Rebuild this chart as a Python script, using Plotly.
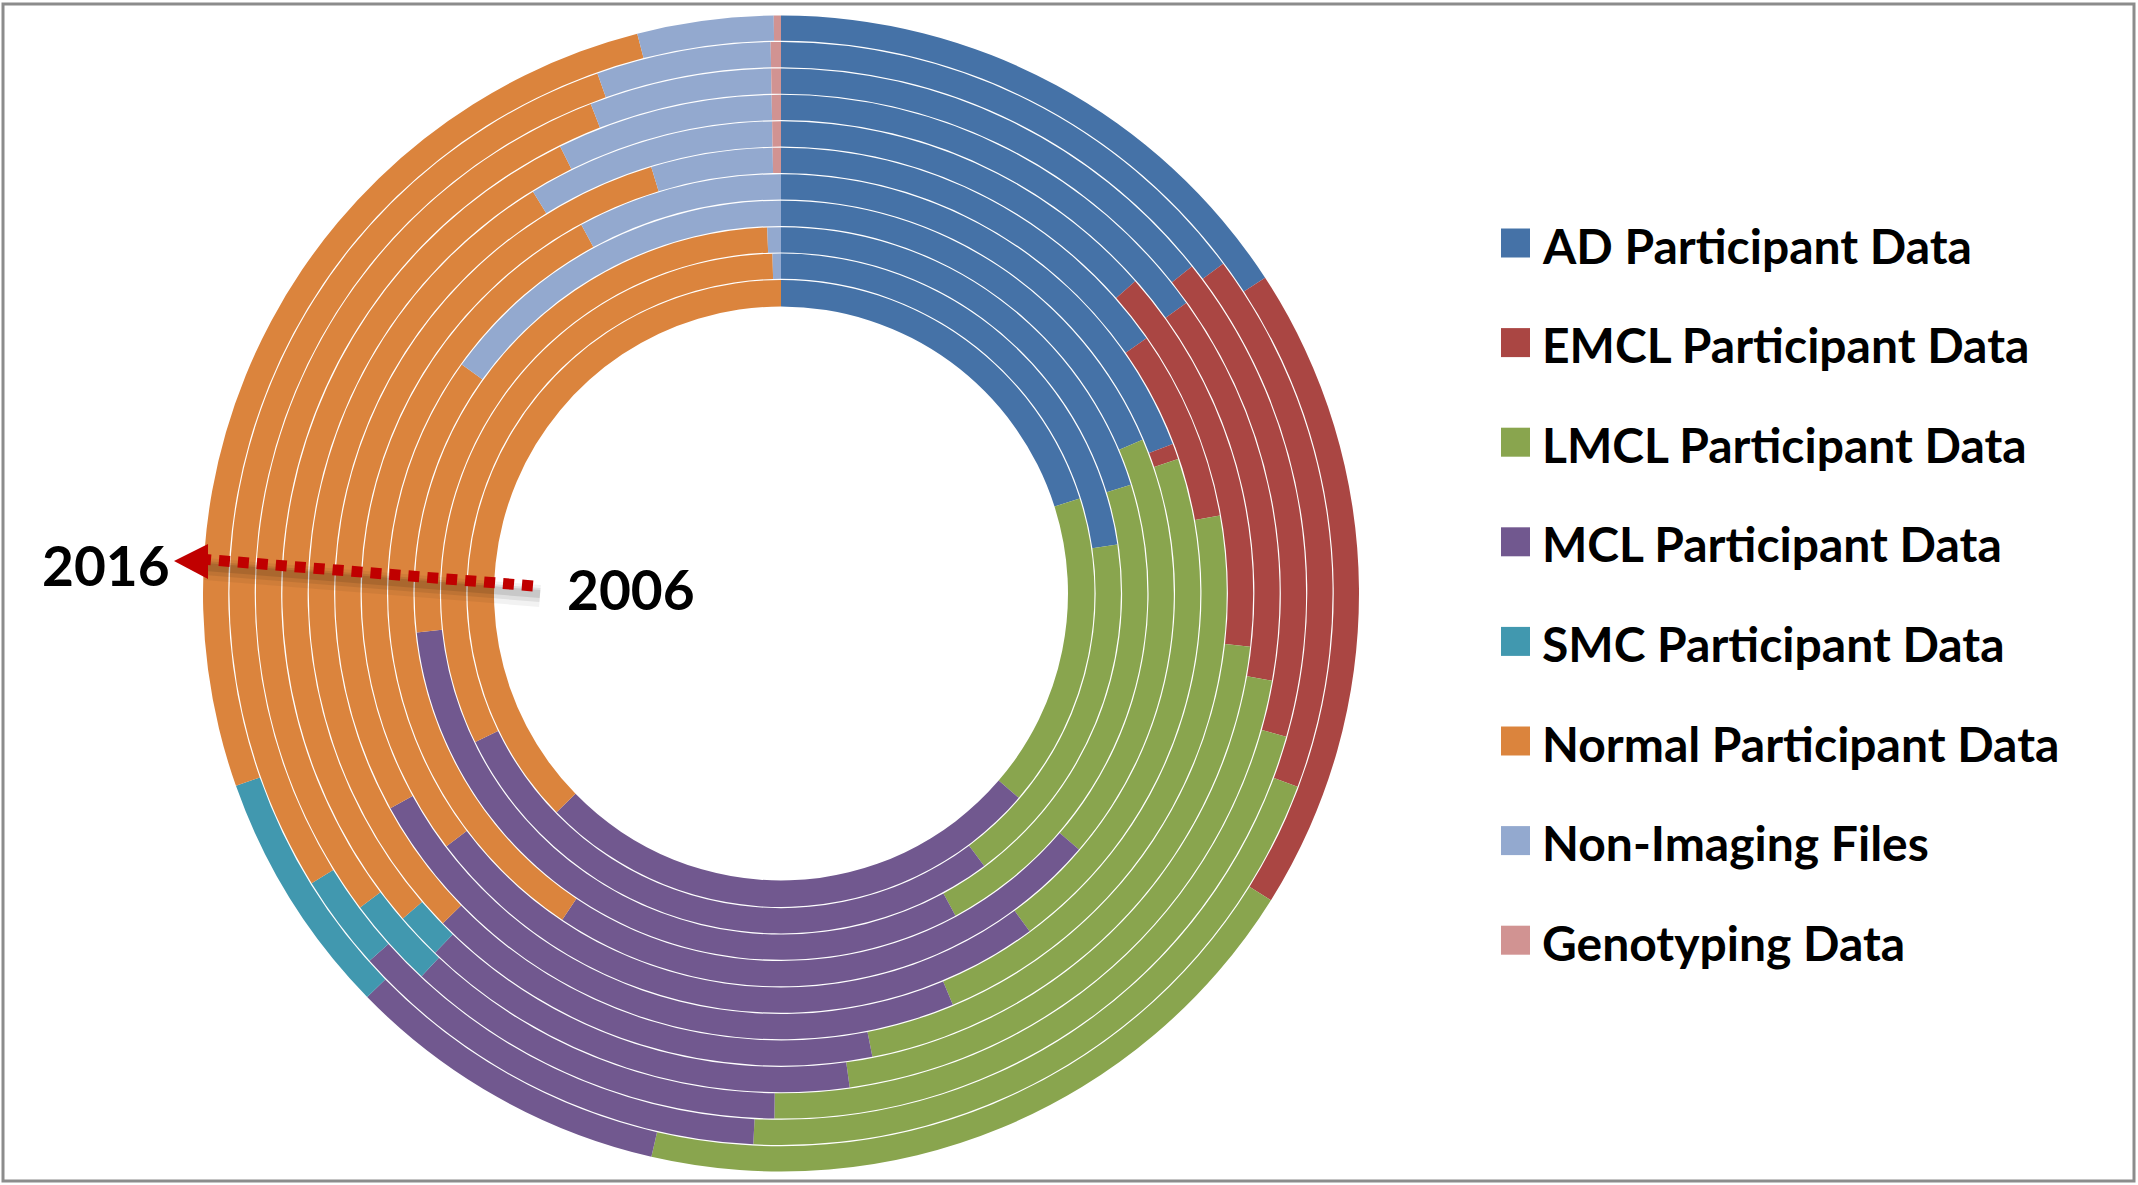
import plotly.graph_objects as go

W, H = 2138, 1185
CX, CY = 781, 593.5          # centre of the rings, in page pixels
R_IN, R_OUT = 287, 578       # hole radius and outer radius
RING_GAP = 1.2

FONT = "Lato"

# one ring per year, 2006 in the middle, 2016 outside
years = [2006, 2007, 2008, 2009, 2010, 2011, 2012, 2013, 2014, 2015, 2016]

categories = ["AD Participant Data", "EMCL Participant Data", "LMCL Participant Data",
              "MCL Participant Data", "SMC Participant Data", "Normal Participant Data",
              "Non-Imaging Files", "Genotyping Data"]
colors = ["#4572A7", "#AA4643", "#89A54E", "#71588F", "#4198AF", "#DB843D", "#93A9CF", "#D19392"]

# share of the data (%) per year
ad = [20.1, 22.7, 20.2, 18.6, 19.2, 15.3, 13.5, 15.1, 14.3, 14.8, 15.8]
emcl = [0, 0, 0, 0, 0.6, 6.9, 13.3, 12.7, 15.1, 15.9, 18.1]
lmcl = [16.2, 17.1, 21.9, 17.7, 20.1, 21.5, 20.1, 20.0, 20.8, 20.1, 19.7]
mcl = [26.4, 28.0, 31.2, 23.1, 24.8, 23.3, 15.8, 14.4, 11.8, 12.6, 9.1]
smc = [0, 0, 0, 0, 0, 0, 0, 1.5, 2.8, 2.8, 6.9]
normal = [37.3, 31.8, 26.1, 25.5, 27.4, 28.3, 28.5, 29.0, 29.3, 28.4, 26.4]
non_imaging = [0, 0.4, 0.6, 15.1, 7.9, 4.4, 8.5, 7.0, 5.6, 5.1, 3.8]
genotyping = [0, 0, 0, 0, 0, 0.3, 0.3, 0.3, 0.3, 0.3, 0.2]

series = [ad, emcl, lmcl, mcl, smc, normal, non_imaging, genotyping]


def px(x):
    return x / W


def py(y):
    return 1 - y / H


fig = go.Figure()

ring_w = (R_OUT - R_IN) / len(years)
for k, year in enumerate(years):
    r_outer = R_IN + ring_w * (k + 1)
    r_inner = R_IN + ring_w * k + (RING_GAP if k else 0)
    fig.add_trace(go.Pie(
        labels=categories,
        values=[s[k] for s in series],
        name=str(year),
        hole=r_inner / r_outer,
        sort=False,
        direction="clockwise",
        rotation=0,
        marker=dict(colors=colors, line=dict(width=0)),
        textinfo="none",
        showlegend=False,
        hovertemplate=str(year) + "<br>%{label}: %{value}%<extra></extra>",
        domain=dict(x=[px(CX - r_outer), px(CX + r_outer)],
                    y=[py(CY + r_outer), py(CY - r_outer)]),
    ))

shapes = []
annotations = []

# legend, drawn by hand so the rows can be spaced like the original
LEG_X, LEG_Y0, LEG_DY, SQ = 1501, 243, 99.6, 29
for i, (name, col) in enumerate(zip(categories, colors)):
    yc = LEG_Y0 + i * LEG_DY
    shapes.append(dict(type="rect", xref="paper", yref="paper",
                       x0=px(LEG_X), x1=px(LEG_X + SQ), y0=py(yc + SQ / 2), y1=py(yc - SQ / 2),
                       fillcolor=col, line=dict(width=0)))
    annotations.append(dict(text="<b>" + name + "</b>", xref="paper", yref="paper",
                            x=px(1540), y=py(yc + 2), xanchor="left", yanchor="middle",
                            showarrow=False, font=dict(family=FONT, size=48, color="black")))

# dotted arrow from the inner ring (2006) to the outer ring (2016)
for off, alpha, width in [(10, 0.05, 22), (9, 0.08, 14), (8, 0.10, 8)]:
    shapes.append(dict(type="line", xref="paper", yref="paper",
                       x0=px(205), y0=py(559 + off), x1=px(540), y1=py(586 + off),
                       line=dict(color="rgba(0,0,0,%s)" % alpha, width=width)))
shapes.append(dict(type="line", xref="paper", yref="paper",
                   x0=px(200), y0=py(559), x1=px(534), y1=py(586),
                   line=dict(color="#C00000", width=11, dash="11px,8px")))
shapes.append(dict(type="path", xref="paper", yref="paper",
                   path="M %f %f L %f %f L %f %f Z" % (px(174), py(561), px(208), py(544),
                                                      px(208), py(579)),
                   fillcolor="#C00000", line=dict(width=0)))

annotations.append(dict(text="<b>2016</b>", xref="paper", yref="paper", x=px(106), y=py(565),
                        xanchor="center", yanchor="middle",
                        showarrow=False, font=dict(family=FONT, size=55, color="black")))
annotations.append(dict(text="<b>2006</b>", xref="paper", yref="paper", x=px(631), y=py(589),
                        xanchor="center", yanchor="middle",
                        showarrow=False, font=dict(family=FONT, size=55, color="black")))

# grey frame round the picture
shapes.append(dict(type="rect", xref="paper", yref="paper",
                   x0=px(3), x1=px(2134), y0=py(1181), y1=py(4),
                   line=dict(color="#8C8C8C", width=3)))

fig.update_layout(
    width=W, height=H,
    margin=dict(l=0, r=0, t=0, b=0),
    paper_bgcolor="white", plot_bgcolor="white",
    shapes=shapes, annotations=annotations,
    showlegend=False,
)

fig.write_html("out.html", config={"displayModeBar": False},
               post_script="document.body.style.margin='0';")
